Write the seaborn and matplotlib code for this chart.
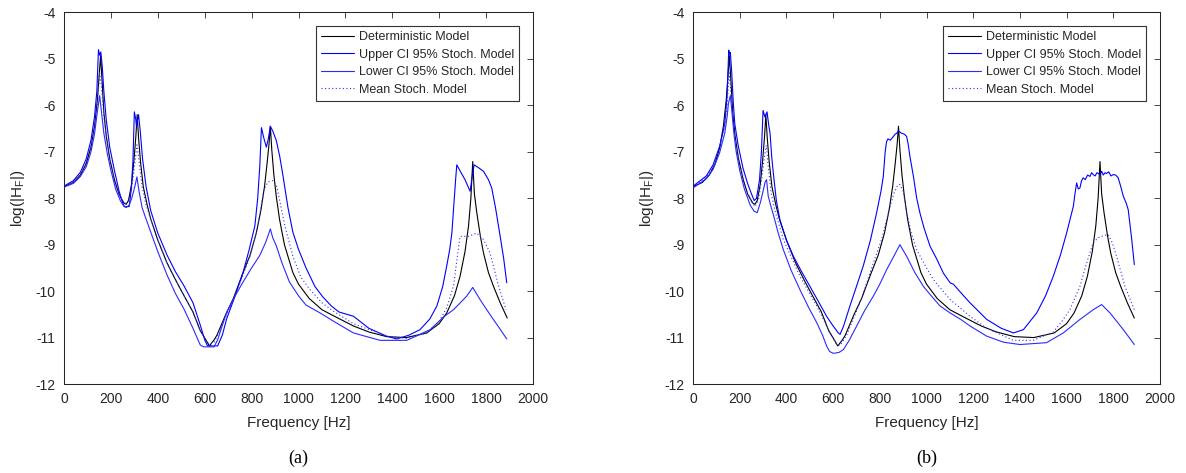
import numpy as np
import pandas as pd
import seaborn as sns
import matplotlib
matplotlib.use("Agg")
import matplotlib.pyplot as plt
from matplotlib.lines import Line2D

# ---------------- data ----------------
x_ticks = [0, 200, 400, 600, 800, 1000, 1200, 1400, 1600, 1800, 2000]
y_ticks = [-12, -11, -10, -9, -8, -7, -6, -5, -4]
legend_labels = ["Deterministic Model", "Upper CI 95% Stoch. Model",
                 "Lower CI 95% Stoch. Model", "Mean Stoch. Model"]
panel_labels = ["(a)", "(b)"]

# deterministic model (same in both panels)
det_f = [0, 40, 70, 95, 115, 130, 142, 150, 156, 162, 170, 180, 195, 215, 235, 255, 265, 275,
         288, 298, 306, 312, 318, 326, 338, 355, 370, 400, 440, 480, 511, 550, 581, 605, 620,
         640, 652, 690, 722, 760, 793, 820, 840, 855, 866, 874, 880, 886, 895, 905, 919, 940,
         976, 1000, 1046, 1100, 1145, 1234, 1300, 1376, 1460, 1547, 1600, 1632, 1665, 1689,
         1710, 1725, 1735, 1743, 1750, 1760, 1775, 1789, 1810, 1831, 1860, 1890]
det_v = [-7.75, -7.66, -7.50, -7.25, -6.90, -6.45, -5.90, -5.35, -4.93, -5.45, -6.15, -6.65,
         -7.15, -7.60, -7.92, -8.10, -8.13, -8.05, -7.70, -7.20, -6.70, -6.20, -6.70, -7.20,
         -7.75, -8.15, -8.45, -8.90, -9.40, -9.80, -10.09, -10.45, -10.85, -11.05, -11.18,
         -11.05, -10.95, -10.50, -10.16, -9.65, -9.23, -8.75, -8.25, -7.75, -7.25, -6.85,
         -6.45, -6.95, -7.50, -7.95, -8.45, -9.00, -9.60, -9.85, -10.16, -10.40, -10.52,
         -10.75, -10.88, -10.98, -11.00, -10.90, -10.70, -10.47, -10.10, -9.68, -9.15, -8.60,
         -8.00, -7.21, -7.90, -8.30, -8.80, -9.18, -9.60, -9.89, -10.25, -10.58]

# panel (a)
a_up_f = [0, 40, 70, 95, 115, 130, 140, 147, 152, 157, 163, 170, 180, 195, 215, 235, 250, 258,
          278, 287, 294, 300, 306, 309, 318, 325, 335, 350, 370, 400, 440, 475, 511, 550, 581,
          600, 612, 655, 675, 694, 730, 764, 790, 814, 826, 835, 842, 852, 863, 872, 880, 890,
          905, 920, 934, 955, 976, 1000, 1032, 1070, 1103, 1140, 1173, 1234, 1300, 1376, 1419,
          1470, 1518, 1560, 1590, 1615, 1632, 1645, 1654, 1663, 1670, 1675, 1690, 1710, 1732,
          1740, 1749, 1770, 1789, 1810, 1824, 1840, 1860, 1875, 1888]
a_up_v = [-7.74, -7.62, -7.44, -7.15, -6.75, -6.25, -5.70, -4.80, -4.92, -4.85, -5.15, -5.70,
          -6.30, -6.90, -7.40, -7.85, -8.10, -8.18, -8.18, -7.80, -7.20, -6.14, -6.30, -6.45,
          -6.20, -6.55, -7.15, -7.75, -8.27, -8.75, -9.23, -9.58, -9.88, -10.25, -10.73,
          -11.05, -11.18, -11.18, -10.95, -10.59, -10.10, -9.59, -9.10, -8.59, -8.00, -7.30,
          -6.48, -6.70, -6.90, -6.70, -6.45, -6.55, -6.75, -7.10, -7.52, -8.20, -8.73, -9.10,
          -9.50, -9.90, -10.12, -10.32, -10.45, -10.54, -10.80, -10.97, -11.03, -10.95,
          -10.83, -10.60, -10.32, -9.90, -9.46, -9.10, -8.75, -8.10, -7.60, -7.28, -7.42,
          -7.60, -7.85, -7.55, -7.28, -7.35, -7.42, -7.60, -7.78, -8.20, -8.82, -9.30, -9.82]

a_lo_f = [0, 40, 70, 95, 115, 130, 142, 152, 160, 170, 185, 200, 220, 240, 255, 265, 278, 290,
          302, 311, 320, 333, 350, 370, 400, 440, 475, 511, 550, 581, 595, 640, 655, 694, 730,
          764, 800, 835, 860, 880, 890, 905, 930, 961, 1000, 1032, 1092, 1150, 1234, 1348,
          1462, 1561, 1620, 1661, 1717, 1743, 1774, 1800, 1831, 1860, 1888]
a_lo_v = [-7.76, -7.68, -7.53, -7.32, -7.00, -6.62, -6.15, -5.79, -6.15, -6.60, -7.05, -7.40,
          -7.80, -8.05, -8.17, -8.20, -8.15, -7.98, -7.75, -7.54, -7.85, -8.20, -8.45, -8.73,
          -9.15, -9.66, -10.05, -10.38, -10.80, -11.16, -11.20, -11.20, -11.05, -10.45,
          -10.10, -9.80, -9.50, -9.23, -8.95, -8.66, -8.85, -9.02, -9.40, -9.80, -10.10,
          -10.30, -10.47, -10.65, -10.90, -11.06, -11.06, -10.83, -10.55, -10.40, -10.11,
          -9.92, -10.18, -10.38, -10.61, -10.82, -11.03]

a_mean_f = [0, 40, 70, 95, 115, 130, 142, 152, 160, 170, 185, 200, 220, 240, 260, 275, 290, 302,
            311, 320, 333, 350, 370, 400, 440, 480, 511, 550, 581, 605, 620, 640, 655, 690,
            722, 760, 793, 820, 835, 852, 870, 890, 906, 920, 940, 976, 1010, 1046, 1100, 1145,
            1234, 1376, 1460, 1547, 1600, 1632, 1661, 1675, 1689, 1725, 1760, 1789, 1817, 1853,
            1885]
a_mean_v = [-7.75, -7.65, -7.48, -7.22, -6.85, -6.45, -6.00, -5.30, -5.60, -6.25, -6.85, -7.25,
            -7.70, -7.97, -8.12, -8.05, -7.75, -7.25, -6.85, -7.20, -7.75, -8.15, -8.45,
            -8.90, -9.40, -9.80, -10.09, -10.45, -10.85, -11.05, -11.15, -11.10, -10.95,
            -10.55, -10.18, -9.70, -9.25, -8.75, -8.35, -7.82, -7.65, -7.62, -7.72, -8.05,
            -8.55, -9.25, -9.70, -9.95, -10.25, -10.42, -10.70, -10.97, -11.02, -10.90,
            -10.65, -10.36, -9.89, -9.35, -8.82, -8.82, -8.75, -8.89, -9.18, -9.89, -10.40]

# panel (b)
b_up_f = [0, 57, 86, 114, 136, 146, 153, 157, 160, 166, 172, 179, 193, 214, 235, 250, 262, 272,
          285, 293, 300, 308, 317, 325, 330, 337, 344, 357, 372, 400, 430, 465, 501, 540, 572,
          600, 622, 630, 645, 672, 700, 729, 760, 786, 805, 815, 823, 829, 835, 845, 858, 866,
          872, 880, 893, 905, 915, 922, 929, 944, 958, 972, 990, 1015, 1043, 1072, 1101, 1115,
          1150, 1186, 1258, 1320, 1372, 1415, 1472, 1510, 1543, 1575, 1600, 1615, 1629, 1636,
          1643, 1650, 1657, 1664, 1671, 1680, 1690, 1700, 1707, 1714, 1722, 1730, 1743, 1750,
          1757, 1765, 1771, 1780, 1790, 1800, 1810, 1821, 1832, 1843, 1855, 1864, 1879, 1890]
b_up_v = [-7.74, -7.52, -7.28, -6.88, -6.40, -5.80, -4.81, -4.90, -4.86, -5.30, -5.90, -6.40,
          -6.85, -7.35, -7.70, -7.90, -8.05, -8.00, -7.60, -7.00, -6.11, -6.25, -6.14, -6.45,
          -6.60, -7.10, -7.46, -8.05, -8.46, -8.90, -9.25, -9.58, -9.90, -10.25, -10.54,
          -10.75, -10.90, -10.93, -10.75, -10.32, -9.90, -9.46, -8.90, -8.32, -7.85, -7.53,
          -7.00, -6.78, -6.72, -6.75, -6.67, -6.62, -6.60, -6.55, -6.60, -6.62, -6.67, -6.85,
          -7.10, -7.53, -8.00, -8.32, -8.65, -9.03, -9.30, -9.61, -9.82, -9.85, -10.05,
          -10.25, -10.61, -10.80, -10.90, -10.83, -10.47, -10.10, -9.68, -9.20, -8.75, -8.45,
          -8.17, -7.90, -7.67, -7.80, -7.78, -7.62, -7.56, -7.60, -7.50, -7.53, -7.45, -7.49,
          -7.52, -7.45, -7.49, -7.42, -7.50, -7.45, -7.47, -7.43, -7.52, -7.49, -7.50, -7.56,
          -7.75, -7.96, -8.10, -8.25, -8.89, -9.43]

b_lo_f = [0, 57, 86, 114, 136, 146, 152, 160, 166, 175, 185, 200, 220, 245, 262, 275, 288, 300,
          309, 315, 322, 335, 344, 365, 387, 420, 458, 495, 530, 555, 572, 585, 601, 625, 644,
          670, 701, 735, 772, 800, 829, 860, 886, 900, 915, 950, 987, 1020, 1058, 1101, 1150,
          1186, 1258, 1330, 1400, 1514, 1586, 1657, 1714, 1750, 1786, 1843, 1890]
b_lo_v = [-7.78, -7.58, -7.38, -7.02, -6.60, -6.25, -5.95, -5.79, -6.10, -6.60, -7.00, -7.40,
          -7.80, -8.15, -8.28, -8.31, -8.10, -7.85, -7.65, -7.60, -7.95, -8.20, -8.35, -8.75,
          -9.11, -9.55, -9.97, -10.35, -10.68, -10.95, -11.18, -11.30, -11.34, -11.32,
          -11.26, -11.05, -10.75, -10.42, -10.11, -9.85, -9.54, -9.25, -9.00, -9.12, -9.25,
          -9.60, -9.90, -10.10, -10.32, -10.47, -10.62, -10.75, -10.97, -11.10, -11.15,
          -11.11, -10.90, -10.61, -10.40, -10.29, -10.47, -10.83, -11.15]

b_mean_f = [0, 57, 86, 114, 136, 146, 155, 162, 172, 185, 205, 230, 250, 265, 280, 295, 306,
            314, 322, 335, 350, 387, 458, 530, 587, 615, 630, 658, 715, 772, 810, 840, 860, 875,
            885, 900, 915, 935, 958, 1000, 1029, 1101, 1186, 1258, 1372, 1457, 1543, 1580, 1614,
            1657, 1686, 1714, 1735, 1750, 1778, 1795, 1814, 1850, 1890]
b_mean_v = [-7.75, -7.55, -7.30, -6.92, -6.45, -6.00, -5.30, -5.70, -6.35, -6.90, -7.35, -7.85,
            -8.05, -8.18, -8.05, -7.55, -7.10, -6.86, -7.30, -7.90, -8.25, -8.89, -9.68,
            -10.32, -10.90, -11.15, -11.17, -10.95, -10.25, -9.40, -8.85, -8.25, -7.90, -7.74,
            -7.70, -7.85, -8.30, -8.75, -9.11, -9.50, -9.75, -10.18, -10.54, -10.80, -11.06,
            -11.06, -10.88, -10.65, -10.40, -9.90, -9.39, -8.96, -8.85, -8.82, -8.78, -8.95,
            -9.25, -9.90, -10.40]

# ---------------- style ----------------
sns.set_theme(style="white")
plt.rcParams["font.family"] = ["Liberation Sans", "DejaVu Sans"]
plt.rcParams["mathtext.default"] = "regular"

C_DET = "#000000"
C_UP = "#0000ff"
C_LO = "#2a2aff"
C_MEAN = "#3030ff"
AX_C = "#262626"
LW = 0.8

W, H = 1186, 473
fig = plt.figure(figsize=(W / 100, H / 100), dpi=100)
fig.patch.set_facecolor("white")

ax_top, ax_bot = 12.5, 384
boxes = [(64, 533), (693, 1160)]

panels = [
    (a_up_f, a_up_v, a_lo_f, a_lo_v, a_mean_f, a_mean_v),
    (b_up_f, b_up_v, b_lo_f, b_lo_v, b_mean_f, b_mean_v),
]

for i, ((x0, x1), data) in enumerate(zip(boxes, panels)):
    up_f, up_v, lo_f, lo_v, mn_f, mn_v = data
    ax = fig.add_axes([x0 / W, (H - ax_bot) / H, (x1 - x0) / W, (ax_bot - ax_top) / H])
    ax.set_facecolor("white")

    sns.lineplot(x=det_f, y=det_v, ax=ax, color=C_DET, lw=LW, estimator=None, sort=False)
    sns.lineplot(x=up_f, y=up_v, ax=ax, color=C_UP, lw=LW, estimator=None, sort=False)
    sns.lineplot(x=lo_f, y=lo_v, ax=ax, color=C_LO, lw=LW, estimator=None, sort=False)
    sns.lineplot(x=mn_f, y=mn_v, ax=ax, color=C_MEAN, lw=LW, estimator=None, sort=False,
                 dashes=False, linestyle=(0, (1, 2.2)))

    ax.set_xlim(0, 2000)
    ax.set_ylim(-12, -4)
    ax.set_xticks(x_ticks)
    ax.set_yticks(y_ticks)
    ax.set_xticklabels([str(t) for t in x_ticks])
    ax.set_yticklabels([str(t) for t in y_ticks])
    ax.tick_params(direction="in", top=True, right=True, length=4, width=0.6,
                   colors=AX_C, labelsize=10, pad=6)
    for sp in ax.spines.values():
        sp.set_color(AX_C)
        sp.set_linewidth(0.75)
        sp.set_visible(True)

    ax.set_xlabel("Frequency [Hz]", fontsize=11, color=AX_C)
    ax.xaxis.set_label_coords(0.5, -(423 - ax_bot) / (ax_bot - ax_top))
    ax.xaxis.label.set_verticalalignment("center")
    ax.set_ylabel("log(|H$_F$|)", fontsize=11, color=AX_C)
    ax.yaxis.set_label_coords(-46 / (x1 - x0), 0.5)
    ax.yaxis.label.set_verticalalignment("center")

    handles = [
        Line2D([], [], color=C_DET, lw=LW),
        Line2D([], [], color=C_UP, lw=LW),
        Line2D([], [], color=C_LO, lw=LW),
        Line2D([], [], color=C_MEAN, lw=LW, linestyle=(0, (1, 2.2))),
    ]
    leg = ax.legend(handles, legend_labels, loc="upper right",
                    bbox_to_anchor=(1 - 14 / (x1 - x0), 1 - 13.5 / (ax_bot - ax_top)),
                    borderaxespad=0, frameon=True, fancybox=False, framealpha=1,
                    edgecolor="#333333", fontsize=9, handlelength=2.6, handletextpad=0.4,
                    labelspacing=0.45, borderpad=0.4)
    leg.get_frame().set_linewidth(0.8)
    for t in leg.get_texts():
        t.set_color(AX_C)

    fig.text((x0 + x1) / 2 / W, 1 - 458 / H, panel_labels[i], ha="center", va="center",
             fontsize=13, family=["Liberation Serif", "DejaVu Serif"], color="black")

fig.savefig("out.png", dpi=100, facecolor="white")
